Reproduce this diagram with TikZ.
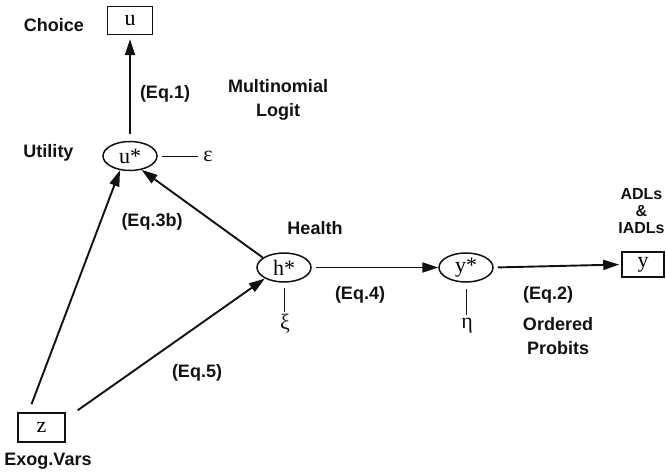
\documentclass[tikz,border=0pt]{standalone}
\usepackage{fontspec}
\setmainfont{Liberation Serif}
\newfontfamily\lblfont{Liberation Sans}
\usepackage{xcolor}
\definecolor{cInk}{HTML}{111111}
\usepackage{tikz}
\usetikzlibrary{positioning,arrows.meta,shapes.geometric}
\tikzset{
  node-box/.style={draw=cInk,line width=1.5pt,inner sep=0pt,
    minimum width=45pt,minimum height=28pt,font=\fontsize{22}{22}\selectfont},
  node-latent/.style={draw=cInk,line width=1.5pt,ellipse,inner sep=0pt,
    minimum width=54pt,minimum height=29pt,font=\fontsize{22}{22}\selectfont},
  node-label/.style={text=cInk,align=center,inner sep=0pt,
    font=\lblfont\bfseries\fontsize{18}{24}\selectfont},
  node-err/.style={text=cInk,inner sep=0pt,font=\fontsize{22}{22}\selectfont},
  arrow/.style={-{Triangle[length=16pt,width=10pt]},line width=1.9pt,draw=cInk},
  link-err/.style={line width=0.9pt,draw=cInk},
}

\begin{document}
\begin{tikzpicture}[x=1pt,y=1pt]
  \useasboundingbox (0,0) rectangle (666,-473);
  % observed and latent variables
  \node[node-box] (u) at (130,-20.5) {u};
  \node[node-latent] (ustar) at (130,-156) {u*};
  \node[node-latent] (hstar) at (284,-267.5) {h*};
  \node[node-latent] (ystar) at (466,-267.5) {y*};
  \node[node-box,minimum width=42pt,minimum height=25pt] (y) at (643,-264.5) {y};
  \node[node-box,minimum width=47pt,minimum height=29pt] (z) at (41.5,-427.5) {z};
  % error terms
  \node[node-err] (eps) at (208,-156) {ε};
  \node[node-err,anchor=north] (xi) at (285,-314) {ξ};
  \node[node-err,anchor=north] (eta) at (467,-318) {η};
  % labels
  \node[node-label] (choice) at (54,-25) {Choice};
  \node[node-label] (utility) at (48.5,-153) {Utility};
  \node[node-label] (health) at (315,-228) {Health};
  \node[node-label] (exog) at (48,-461) {Exog.Vars};
  \node[node-label] (mnl) at (278,-100) {Multinomial\\Logit};
  \node[node-label] (oprob) at (558,-336) {Ordered\\Probits};
  \node[node-label,font=\lblfont\bfseries\fontsize{16}{17}\selectfont] (adl) at (641.5,-211) {ADLs\\\&\\IADLs};
  \node[node-label] (eq1) at (165,-94) {(Eq.1)};
  \node[node-label] (eq3b) at (152,-222) {(Eq.3b)};
  \node[node-label] (eq5) at (197,-373) {(Eq.5)};
  \node[node-label] (eq4) at (360,-295) {(Eq.4)};
  \node[node-label] (eq2) at (548,-295) {(Eq.2)};
  % structural arrows
  \draw[arrow,shorten <=7pt,shorten >=4pt] (ustar.north) -- (u.south);
  \draw[arrow] ([xshift=-10pt,yshift=8pt]z.north) -- (ustar.235);
  \draw[arrow] ([xshift=12pt,yshift=2pt]z.north east) -- (hstar.210);
  \draw[arrow] (hstar.155) -- (ustar.-50);
  \draw[arrow,shorten <=4pt] (hstar.east) -- (ystar.west);
  \draw[arrow,shorten <=4pt,shorten >=2pt] (ystar.east) -- (y.west);
  % disturbances
  \draw[link-err,shorten <=4.5pt,shorten >=5pt] (ustar.east) -- (eps.west);
  \draw[link-err,shorten <=5pt,shorten >=2pt] (hstar.south) -- (hstar.south |- xi.north);
  \draw[link-err,shorten <=6pt,shorten >=3pt] (ystar.south) -- (ystar.south |- eta.north);
\end{tikzpicture}
\end{document}
